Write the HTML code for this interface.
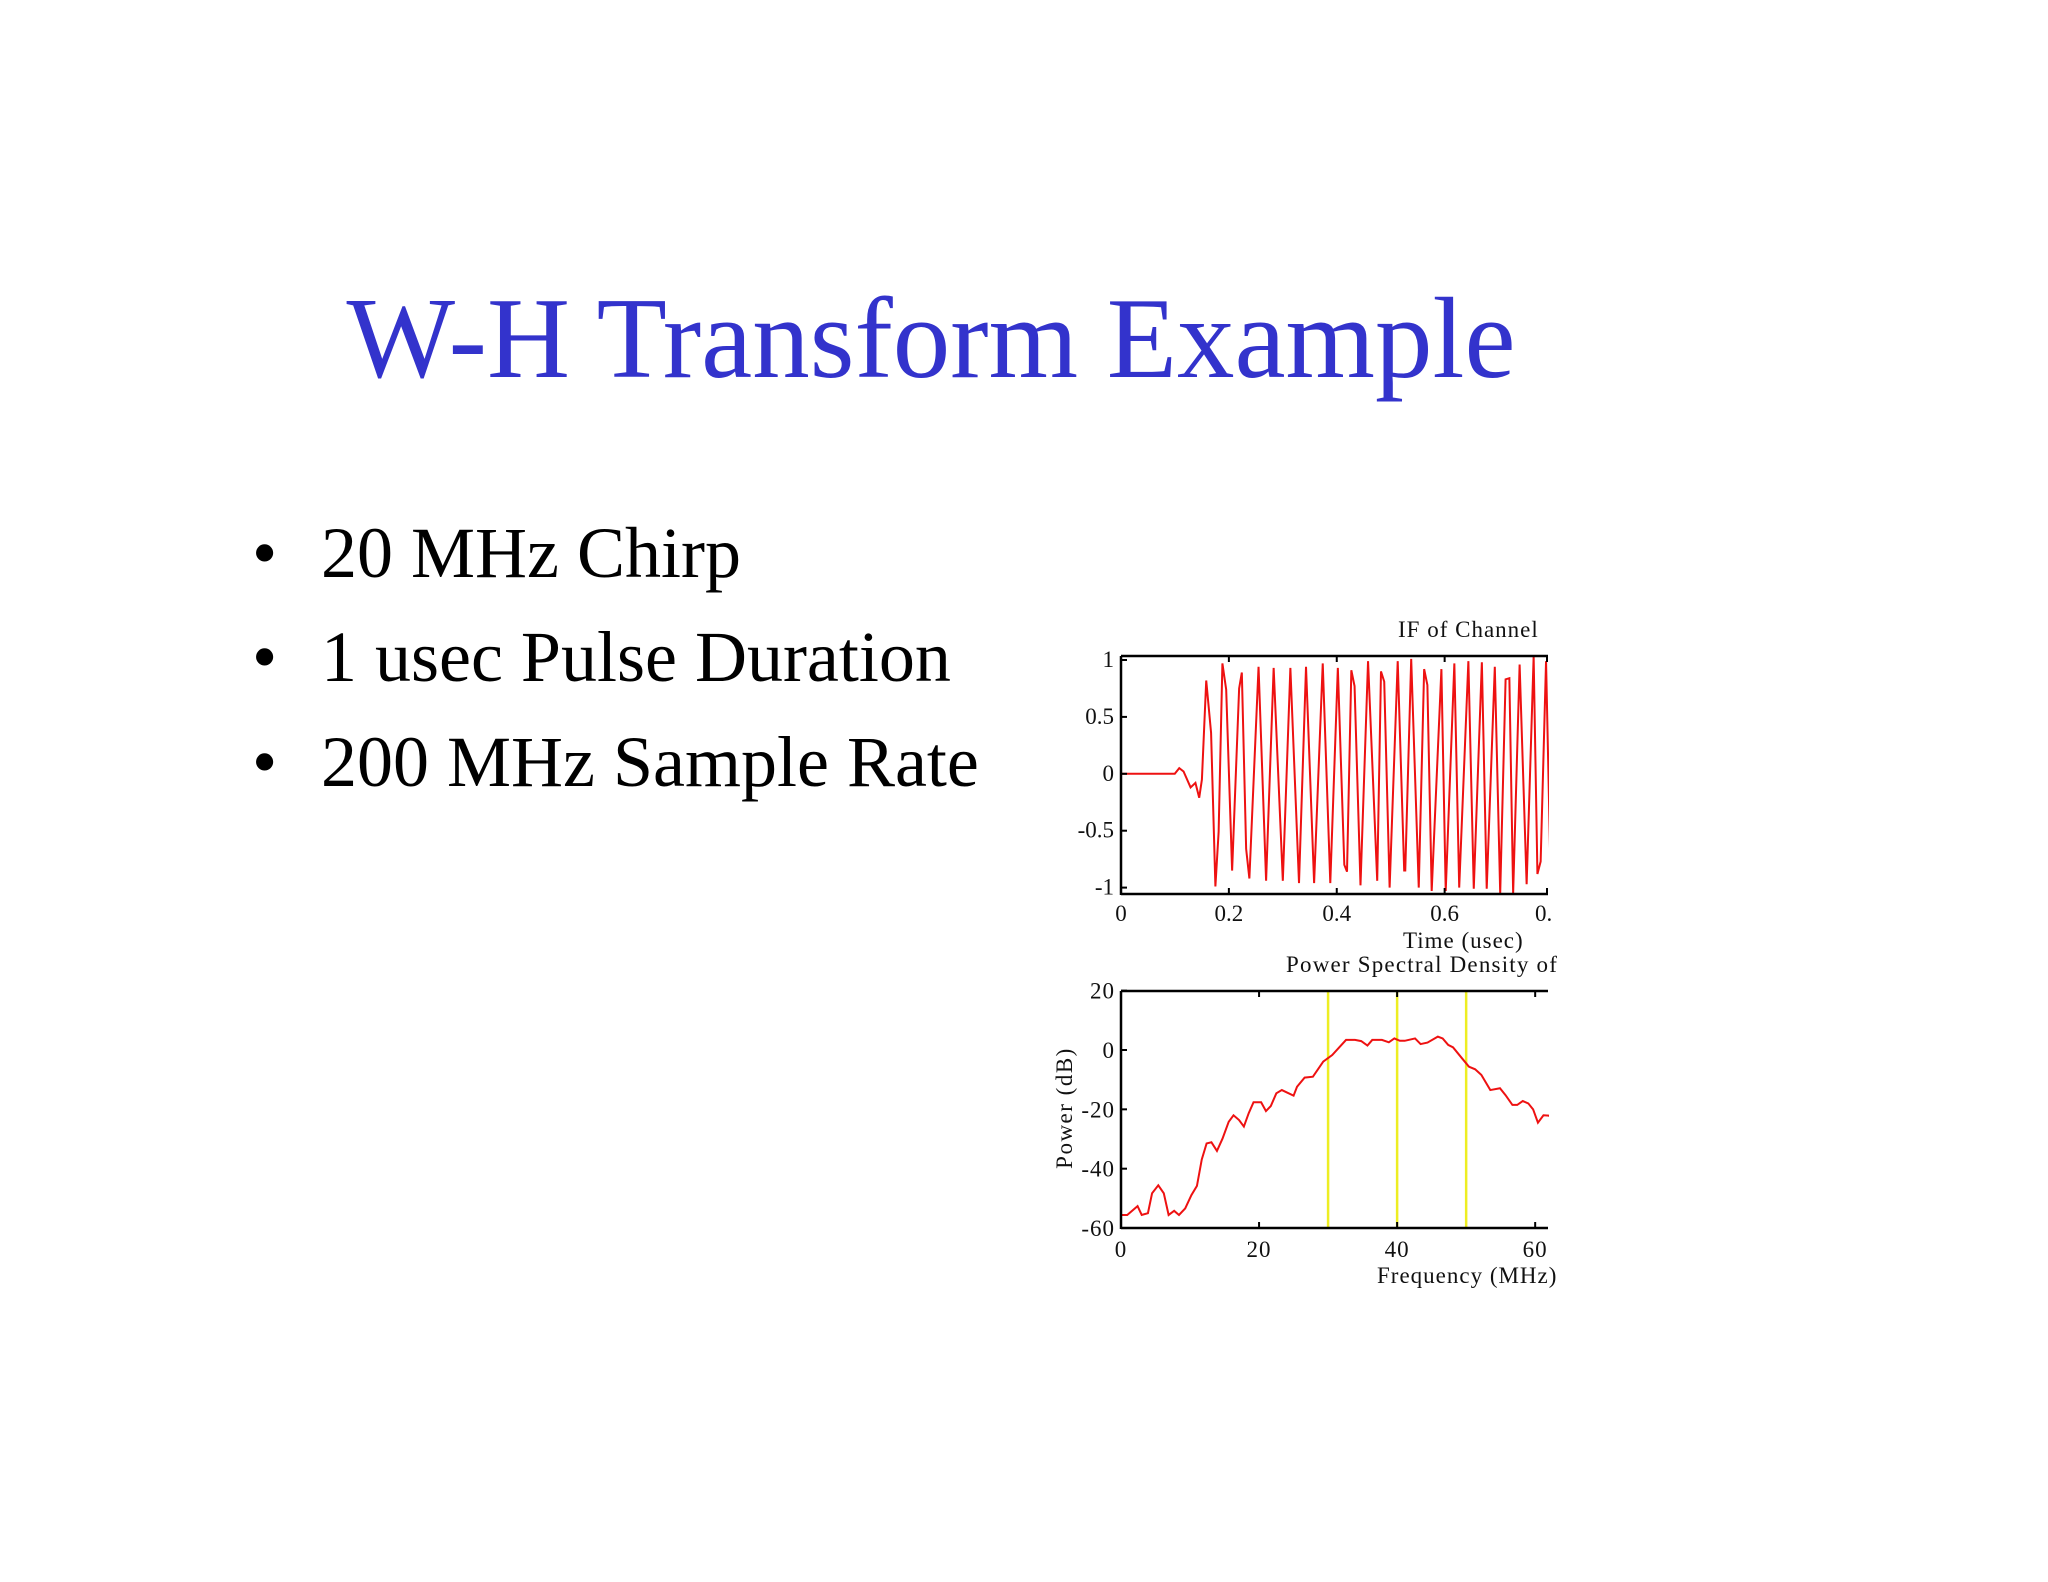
<!DOCTYPE html>
<html><head><meta charset="utf-8"><style>
html,body{margin:0;padding:0;background:#fff;}
body{width:2048px;height:1582px;position:relative;overflow:hidden;font-family:"Liberation Serif",serif;}
.t{position:absolute;white-space:nowrap;}
</style></head><body>
<div class="t" style="left:0;width:1862px;text-align:center;top:274px;font-size:115px;line-height:130px;color:#3333cc;">W-H Transform Example</div>
<div>
<div class="t" style="left:252px;top:513px;font-size:72px;line-height:80px;">•<span style="position:absolute;left:69px">20 MHz Chirp</span></div>
<div class="t" style="left:252px;top:617px;font-size:72px;line-height:80px;">•<span style="position:absolute;left:69px">1 usec Pulse Duration</span></div>
<div class="t" style="left:252px;top:722px;font-size:72px;line-height:80px;">•<span style="position:absolute;left:69px">200 MHz Sample Rate</span></div>
</div>
<svg id="chart" width="2048" height="1582" style="position:absolute;left:0;top:0" font-family="Liberation Serif, serif">
<defs>
<clipPath id="c1"><rect x="1121" y="640" width="428" height="270"/></clipPath>
<clipPath id="c2"><rect x="1121" y="985" width="428" height="250"/></clipPath>
</defs>
</svg>
<script>
// Top chart data: time (usec) and amplitude vertices
const timeT=[0,0.0997,0.108,0.116,0.129,0.138,0.145,0.150,0.158,0.167,0.175,0.181,0.188,0.195,0.206,0.219,0.224,0.232,0.238,0.255,0.269,0.283,0.300,0.314,0.330,0.343,0.358,0.374,0.388,0.402,0.414,0.419,0.427,0.433,0.444,0.458,0.475,0.482,0.488,0.498,0.513,0.525,0.527,0.538,0.552,0.562,0.568,0.576,0.594,0.602,0.618,0.627,0.644,0.654,0.669,0.678,0.693,0.703,0.713,0.720,0.727,0.739,0.752,0.765,0.772,0.778,0.788,0.797,0.804];
const ampV=[0,0,0.05,0.02,-0.12,-0.08,-0.21,-0.05,0.82,0.36,-0.99,-0.51,0.97,0.74,-0.85,0.75,0.89,-0.66,-0.92,0.94,-0.94,0.93,-0.94,0.93,-0.96,0.94,-0.96,0.97,-0.96,0.93,-0.80,-0.86,0.91,0.77,-0.98,0.99,-0.94,0.90,0.81,-1.0,0.99,-0.85,-0.85,1.01,-1.0,0.92,0.78,-1.03,0.92,-1.03,0.97,-1.0,0.99,-1.01,0.98,-1.01,0.94,-1.05,0.83,0.84,-1.05,0.96,-0.97,1.03,-0.88,-0.77,0.99,-1.03,0.07];
const timeTicks=[0,0.2,0.4,0.6,0.8];
const timeTickLabels=["0","0.2","0.4","0.6","0."];
const ampTicks=[1,0.5,0,-0.5,-1];
const ampTickLabels=["1","0.5","0","-0.5","-1"];
// Bottom chart data: PSD
const freqF=[0,0.9,2.4,3,3.9,4.5,5.4,6.2,6.9,7.7,8.4,9.3,10.2,11,11.7,12.4,13.1,13.9,14.7,15.6,16.3,17.1,17.8,18.5,19.2,20.3,21,21.7,22.5,23.3,25,25.5,26.6,27.8,29.3,30.6,32.6,33.9,34.8,35.7,36.4,37.8,38.8,39.6,40.4,41.1,42.6,43.4,44.4,45.9,46.6,47.4,48.1,49.4,50.4,51.3,52.2,53.5,54.9,55.7,56.7,57.4,58.2,59,59.7,60.4,61.2,62,62.8];
const powerDb=[-55.6,-55.6,-52.6,-55.6,-55,-48.3,-45.6,-48.3,-55.6,-54.2,-55.6,-53.4,-48.9,-45.8,-36.9,-31.5,-31.1,-34,-29.9,-24.2,-22,-23.6,-25.8,-21.3,-17.6,-17.6,-20.6,-18.9,-14.6,-13.5,-15.4,-12.4,-9.3,-9,-3.9,-1.7,3.4,3.4,3,1.5,3.4,3.4,2.6,3.9,3.1,3.1,3.9,2,2.5,4.5,3.9,1.7,0.9,-2.8,-5.6,-6.5,-8.4,-13.5,-12.9,-15.2,-18.5,-18.5,-17.2,-18,-20,-24.5,-22,-22.1,-24.2];
const markerFreqs=[30,40,50];
const freqTicks=[0,20,40,60];
const freqTickLabels=["0","20","40","60"];
const dbTicks=[20,0,-20,-40,-60];
const dbTickLabels=["20","0","-20","-40","-60"];

const NS="http://www.w3.org/2000/svg";
const svg=document.getElementById('chart');
function mk(tag,attrs,parent){const e=document.createElementNS(NS,tag);for(const k in attrs)e.setAttribute(k,attrs[k]);(parent||svg).appendChild(e);return e;}
function txt(s,x,y,anchor,size,parent){const e=mk('text',{x:x,y:y,'text-anchor':anchor,'font-size':size,fill:'#111'},parent);e.textContent=s;return e;}

const L=1121,R=1548;
const tx=t=>L+t*539.4;
const ty=v=>773.8-v*113.8;
const topG=mk('g',{});


const p1=mk('polyline',{points:timeT.map((t,i)=>tx(t)+','+ty(ampV[i])).join(' '),fill:'none',stroke:'#ee1111','stroke-width':2,'clip-path':'url(#c1)'},topG);


mk('line',{x1:L,y1:656,x2:R,y2:656,stroke:'#000','stroke-width':2.5},topG);
mk('line',{x1:L,y1:656,x2:L,y2:895,stroke:'#000','stroke-width':2.5},topG);
mk('line',{x1:L,y1:894,x2:R,y2:894,stroke:'#000','stroke-width':2.5},topG);
timeTicks.forEach((t,i)=>{const x=Math.min(tx(t),R-1);
 mk('line',{x1:x,y1:894,x2:x,y2:888,stroke:'#000','stroke-width':2},topG);
 mk('line',{x1:x,y1:656,x2:x,y2:662,stroke:'#000','stroke-width':2},topG);
 const e=txt(timeTickLabels[i],x,921,i==4?'start':'middle',23,topG);if(i==4)e.setAttribute('x',x-12);
 });
ampTicks.forEach((v,i)=>{const y=ty(v);
 mk('line',{x1:L,y1:y,x2:L+6,y2:y,stroke:'#000','stroke-width':2},topG);
 const e=txt(ampTickLabels[i],1114,y+7,'end',23,topG);
 });
let e=txt('IF of Channel',1398,637,'start',23,topG);e.setAttribute('letter-spacing','1');

e=txt('Time (usec)',1403,948,'start',23,topG);e.setAttribute('letter-spacing','1');


const fx=f=>L+f*6.903;
const fy=d=>1050-d*2.967;
const botG=mk('g',{});


markerFreqs.forEach(f=>{const l=mk('line',{x1:fx(f),y1:991,x2:fx(f),y2:1228,stroke:'#eeee22','stroke-width':2.5},botG);
 });
const p2=mk('polyline',{points:freqF.map((f,i)=>fx(f)+','+fy(powerDb[i])).join(' '),fill:'none',stroke:'#ee1111','stroke-width':2,'clip-path':'url(#c2)'},botG);


mk('line',{x1:L,y1:991,x2:R,y2:991,stroke:'#000','stroke-width':2.5},botG);
mk('line',{x1:L,y1:991,x2:L,y2:1229,stroke:'#000','stroke-width':2.5},botG);
mk('line',{x1:L,y1:1228,x2:R,y2:1228,stroke:'#000','stroke-width':2.5},botG);
freqTicks.forEach((f,i)=>{const x=fx(f);
 mk('line',{x1:x,y1:1228,x2:x,y2:1222,stroke:'#000','stroke-width':2},botG);
 mk('line',{x1:x,y1:991,x2:x,y2:997,stroke:'#000','stroke-width':2},botG);
 const e=txt(freqTickLabels[i],x,1257,'middle',23,botG);e.setAttribute('letter-spacing','1');
 });
dbTicks.forEach((d,i)=>{const y=fy(d);
 mk('line',{x1:L,y1:y,x2:L+6,y2:y,stroke:'#000','stroke-width':2},botG);
 const e=txt(dbTickLabels[i],1115,y+8,'end',23,botG);e.setAttribute('letter-spacing','1');
 });
e=txt('Power Spectral Density of',1286,972,'start',23,botG);e.setAttribute('letter-spacing','1.2');

e=txt('Frequency (MHz)',1377,1283,'start',23,botG);e.setAttribute('letter-spacing','1');

e=txt('Power (dB)',0,0,'middle',23,botG);e.setAttribute('letter-spacing','1.5');
e.setAttribute('transform','translate(1072,1108) rotate(-90)');

</script>
</body></html>
